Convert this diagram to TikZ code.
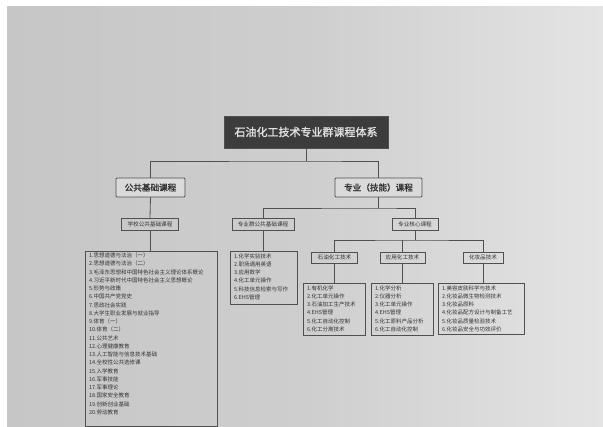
\documentclass[tikz,border=0pt]{standalone}
\usepackage{fontspec}
\setmainfont{Noto Sans CJK SC}
\newfontfamily\cjkb[FakeBold=1.5]{Noto Sans CJK SC}
\definecolor{paperL}{RGB}{198,198,198}
\definecolor{paperM}{RGB}{206,206,206}
\definecolor{paperR}{RGB}{228,228,228}
\definecolor{ink}{RGB}{50,50,50}
\definecolor{wire}{RGB}{80,80,80}
\definecolor{titlebg}{RGB}{60,60,60}
\definecolor{titletx}{RGB}{225,225,225}
\begin{document}
\begin{tikzpicture}[x=1pt,y=-1pt,
  every node/.style={inner sep=0pt,outer sep=0pt,text=ink},
  wirestyle/.style={draw=wire,line width=0.8pt},
  titlebox/.style={draw=wire,fill=titlebg,line width=0.8pt,text=titletx,font=\cjkb\fontsize{11}{13}\selectfont},
  lvlone/.style={draw=wire,fill=paperM!75!white,line width=0.8pt,rounded corners=1pt,font=\cjkb\fontsize{8.6}{10}\selectfont},
  lvltwo/.style={draw=wire,line width=0.6pt,font=\fontsize{5.6}{7}\selectfont},
  listbox/.style={draw=wire,line width=0.7pt,anchor=north west},
  listtext/.style={anchor=north west,align=left,font=\fontsize{5.5}{8.25}\selectfont}
]
\useasboundingbox (0,0) rectangle (603,427);
\fill[white] (0,0) rectangle (603,427);
\shade[left color=paperL,right color=paperR,middle color=paperM] (7,7) rectangle (603,427);

% title
\node[titlebox,minimum width=164pt,minimum height=32pt] (title) at (306,132) {石油化工技术专业群课程体系};

% level 1
\node[lvlone,minimum width=69pt,minimum height=19pt] (pub) at (150.5,187.5) {公共基础课程};
\node[lvlone,minimum width=87pt,minimum height=19pt] (prof) at (378.5,187.5) {专业（技能）课程};

% level 2
\node[lvltwo,minimum width=56.5pt,minimum height=12pt] (school) at (150,224) {学校公共基础课程};
\node[lvltwo,minimum width=62pt,minimum height=12pt] (grp) at (263,224) {专业群公共基础课程};
\node[lvltwo,minimum width=46pt,minimum height=12pt] (core) at (415,224) {专业核心课程};

% level 3
\node[lvltwo,minimum width=46.5pt,minimum height=11pt] (petro) at (334.5,257.5) {石油化工技术};
\node[lvltwo,minimum width=45pt,minimum height=11pt] (appl) at (402.5,257.5) {应用化工技术};
\node[lvltwo,minimum width=40pt,minimum height=11pt] (cosm) at (483,257.5) {化妆品技术};

% list boxes
\node[listbox,minimum width=132pt,minimum height=175pt] (leftlist) at (85,251) {};
\node[listbox,minimum width=67pt,minimum height=53pt] (midlist) at (230,251) {};
\node[listbox,minimum width=62pt,minimum height=52pt] (petlist) at (303,283) {};
\node[listbox,minimum width=62pt,minimum height=52pt] (applist) at (371,283) {};
\node[listbox,minimum width=86pt,minimum height=51pt] (coslist) at (438,283) {};

\node[listtext] (lefttext) at (89,253) {1.思想道德与法治（一）\\2.思想道德与法治（二）\\3.毛泽东思想和中国特色社会主义理论体系概论\\4.习近平新时代中国特色社会主义思想概论\\5.形势与政策\\6.中国共产党党史\\7.思政社会实践\\8.大学生职业发展与就业指导\\9.体育（一）\\10.体育（二）\\11.公共艺术\\12.心理健康教育\\13.人工智能与信息技术基础\\14.全校性公共选修课\\15.入学教育\\16.军事技能\\17.军事理论\\18.国家安全教育\\19.创新创业基础\\20.劳动教育};
\node[listtext] (midtext) at (234,253.5) {1.化学实验技术\\2.职场通用英语\\3.应用数学\\4.化工单元操作\\5.科技信息检索与写作\\6.EHS管理};
\node[listtext] (pettext) at (307,285.5) {1.有机化学\\2.化工单元操作\\3.石油加工生产技术\\4.EHS管理\\5.化工自动化控制\\6.化工分离技术};
\node[listtext] (apptext) at (375,285.5) {1.化学分析\\2.仪器分析\\3.化工单元操作\\4.EHS管理\\5.化工原料产品分析\\6.化工自动化控制};
\node[listtext] (costext) at (442,285.5) {1.美容皮肤科学与技术\\2.化妆品微生物检测技术\\3.化妆品原料\\4.化妆品配方设计与制备工艺\\5.化妆品质量检验技术\\6.化妆品安全与功效评价};

% junction coordinates
\coordinate (bar1) at (306,161);
\coordinate (bar2) at (378.5,208);
\coordinate (bar3) at (415,240);

% connectors
\draw[wirestyle] (title.south) -- (bar1);
\draw[wirestyle] (pub.north) |- (bar1) -| (prof.north);
\draw[wirestyle] (pub.south) -- (school.north);
\draw[wirestyle] (prof.south) -- (bar2);
\draw[wirestyle] (grp.north) |- (bar2) -| (core.north);
\draw[wirestyle] (core.south) -- (bar3);
\draw[wirestyle] (petro.north) |- (bar3) -| (cosm.north);
\draw[wirestyle] (appl.north) -- (appl.north |- bar3);
\draw[wirestyle] (school.south) -- (school.south |- leftlist.north);
\draw[wirestyle] (grp.south) -- (grp.south |- midlist.north);
\draw[wirestyle] (petro.south) -- (petro.south |- petlist.north);
\draw[wirestyle] (appl.south) -- (appl.south |- applist.north);
\draw[wirestyle] (cosm.south) -- (cosm.south |- coslist.north);
\end{tikzpicture}
\end{document}
